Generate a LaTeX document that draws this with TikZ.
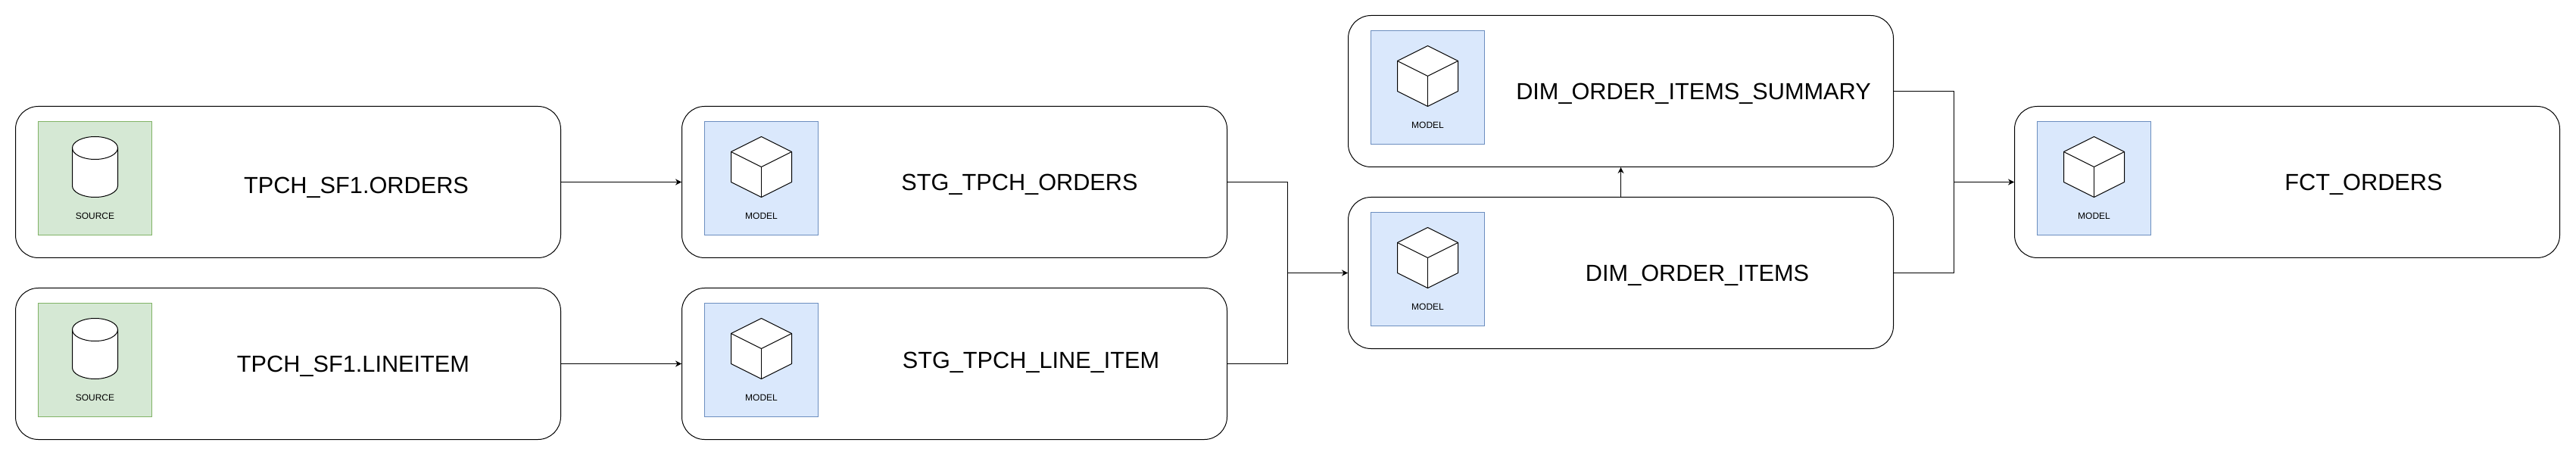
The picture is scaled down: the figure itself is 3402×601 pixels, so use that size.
\documentclass[tikz,border=0pt]{standalone}
\usepackage{fontspec}
\setmainfont{Liberation Sans}
\usetikzlibrary{arrows.meta}
\definecolor{modelfill}{HTML}{DAE8FC}
\definecolor{modelline}{HTML}{6C8EBF}
\definecolor{sourcefill}{HTML}{D5E8D4}
\definecolor{sourceline}{HTML}{82B366}
\tikzset{
  stage/.style={draw=black,fill=white,line width=1pt,rounded corners=30pt,minimum width=720pt,minimum height=200pt,inner sep=0pt},
  iconmodel/.style={draw=modelline,fill=modelfill,line width=1pt,minimum width=150pt,minimum height=150pt,inner sep=0pt},
  iconsource/.style={draw=sourceline,fill=sourcefill,line width=1pt,minimum width=150pt,minimum height=150pt,inner sep=0pt},
  title/.style={font=\fontsize{30.7}{36}\selectfont,inner sep=0pt,anchor=base},
  tag/.style={font=\fontsize{12}{14}\selectfont,inner sep=0pt,anchor=base},
  wire/.style={line width=1pt},
  link/.style={wire,-{Stealth[length=8pt,width=8pt]}},
  pics/cube/.style={code={
    \draw[fill=white,wire,line join=round] (-40,20) -- (0,0) -- (40,20) -- (40,60) -- (0,80) -- (-40,60) -- cycle;
    \draw[wire,line join=round] (-40,20) -- (0,40) -- (40,20);
    \draw[wire] (0,40) -- (0,80);
  }},
  pics/drum/.style={code={
    \draw[fill=white,wire] (-30,15) -- (-30,65) arc[start angle=180,end angle=0,x radius=30,y radius=15] -- (30,15) arc[start angle=0,end angle=-180,x radius=30,y radius=15] -- cycle;
    \draw[wire] (-30,15) arc[start angle=180,end angle=0,x radius=30,y radius=15];
  }}
}
\begin{document}
\begin{tikzpicture}[x=1pt,y=-1pt]
  \useasboundingbox (-0.5,-0.5) rectangle (3401.5,600.5);
  % stages
  \node[stage] (orders) at (380,240) {};
  \node[stage] (lineitem) at (380,480) {};
  \node[stage] (stgorders) at (1260,240) {};
  \node[stage] (stgline) at (1260,480) {};
  \node[stage] (summary) at (2140,120) {};
  \node[stage] (items) at (2140,360) {};
  \node[stage] (fct) at (3020,240) {};
  % icon boxes
  \node[iconsource] (ordersicon) at (125,235) {};
  \node[iconsource] (lineicon) at (125,475) {};
  \node[iconmodel] (stgordersicon) at (1005,235) {};
  \node[iconmodel] (stglineicon) at (1005,475) {};
  \node[iconmodel] (summaryicon) at (1885,115) {};
  \node[iconmodel] (itemsicon) at (1885,355) {};
  \node[iconmodel] (fcticon) at (2765,235) {};
  \pic at (125,180) {drum};
  \pic at (125,420) {drum};
  \pic at (1005,180) {cube};
  \pic at (1005,420) {cube};
  \pic at (1885,60) {cube};
  \pic at (1885,300) {cube};
  \pic at (2765,180) {cube};
  \node[tag] (ordersrc) at (125,289) {SOURCE};
  \node[tag] (linesrc) at (125,529) {SOURCE};
  \node[tag] (stgordersmd) at (1005,289) {MODEL};
  \node[tag] (stglinemd) at (1005,529) {MODEL};
  \node[tag] (summarymd) at (1885,169) {MODEL};
  \node[tag] (itemsmd) at (1885,409) {MODEL};
  \node[tag] (fctmd) at (2765,289) {MODEL};
  % titles
  \node[title] (orderstitle) at (470,255) {TPCH\_SF1.ORDERS};
  \node[title] (linetitle) at (466,491) {TPCH\_SF1.LINEITEM};
  \node[title] (stgorderstitle) at (1346,251) {STG\_TPCH\_ORDERS};
  \node[title] (stglinetitle) at (1361,486) {STG\_TPCH\_LINE\_ITEM};
  \node[title] (summarytitle) at (2236,131) {DIM\_ORDER\_ITEMS\_SUMMARY};
  \node[title] (itemstitle) at (2241,371) {DIM\_ORDER\_ITEMS};
  \node[title] (fcttitle) at (3121,251) {FCT\_ORDERS};
  % links
  \coordinate (joinitems) at (1700,360);
  \coordinate (joinfct) at (2580,240);
  \draw[link] (orders) -- (stgorders);
  \draw[link] (lineitem) -- (stgline);
  \draw[wire] (stgorders.east) -| (joinitems);
  \draw[wire] (stgline.east) -| (joinitems);
  \draw[link] (joinitems) -- (items.west);
  \draw[link] (items) -- (summary);
  \draw[wire] (summary.east) -| (joinfct);
  \draw[wire] (items.east) -| (joinfct);
  \draw[link] (joinfct) -- (fct.west);
\end{tikzpicture}
\end{document}
